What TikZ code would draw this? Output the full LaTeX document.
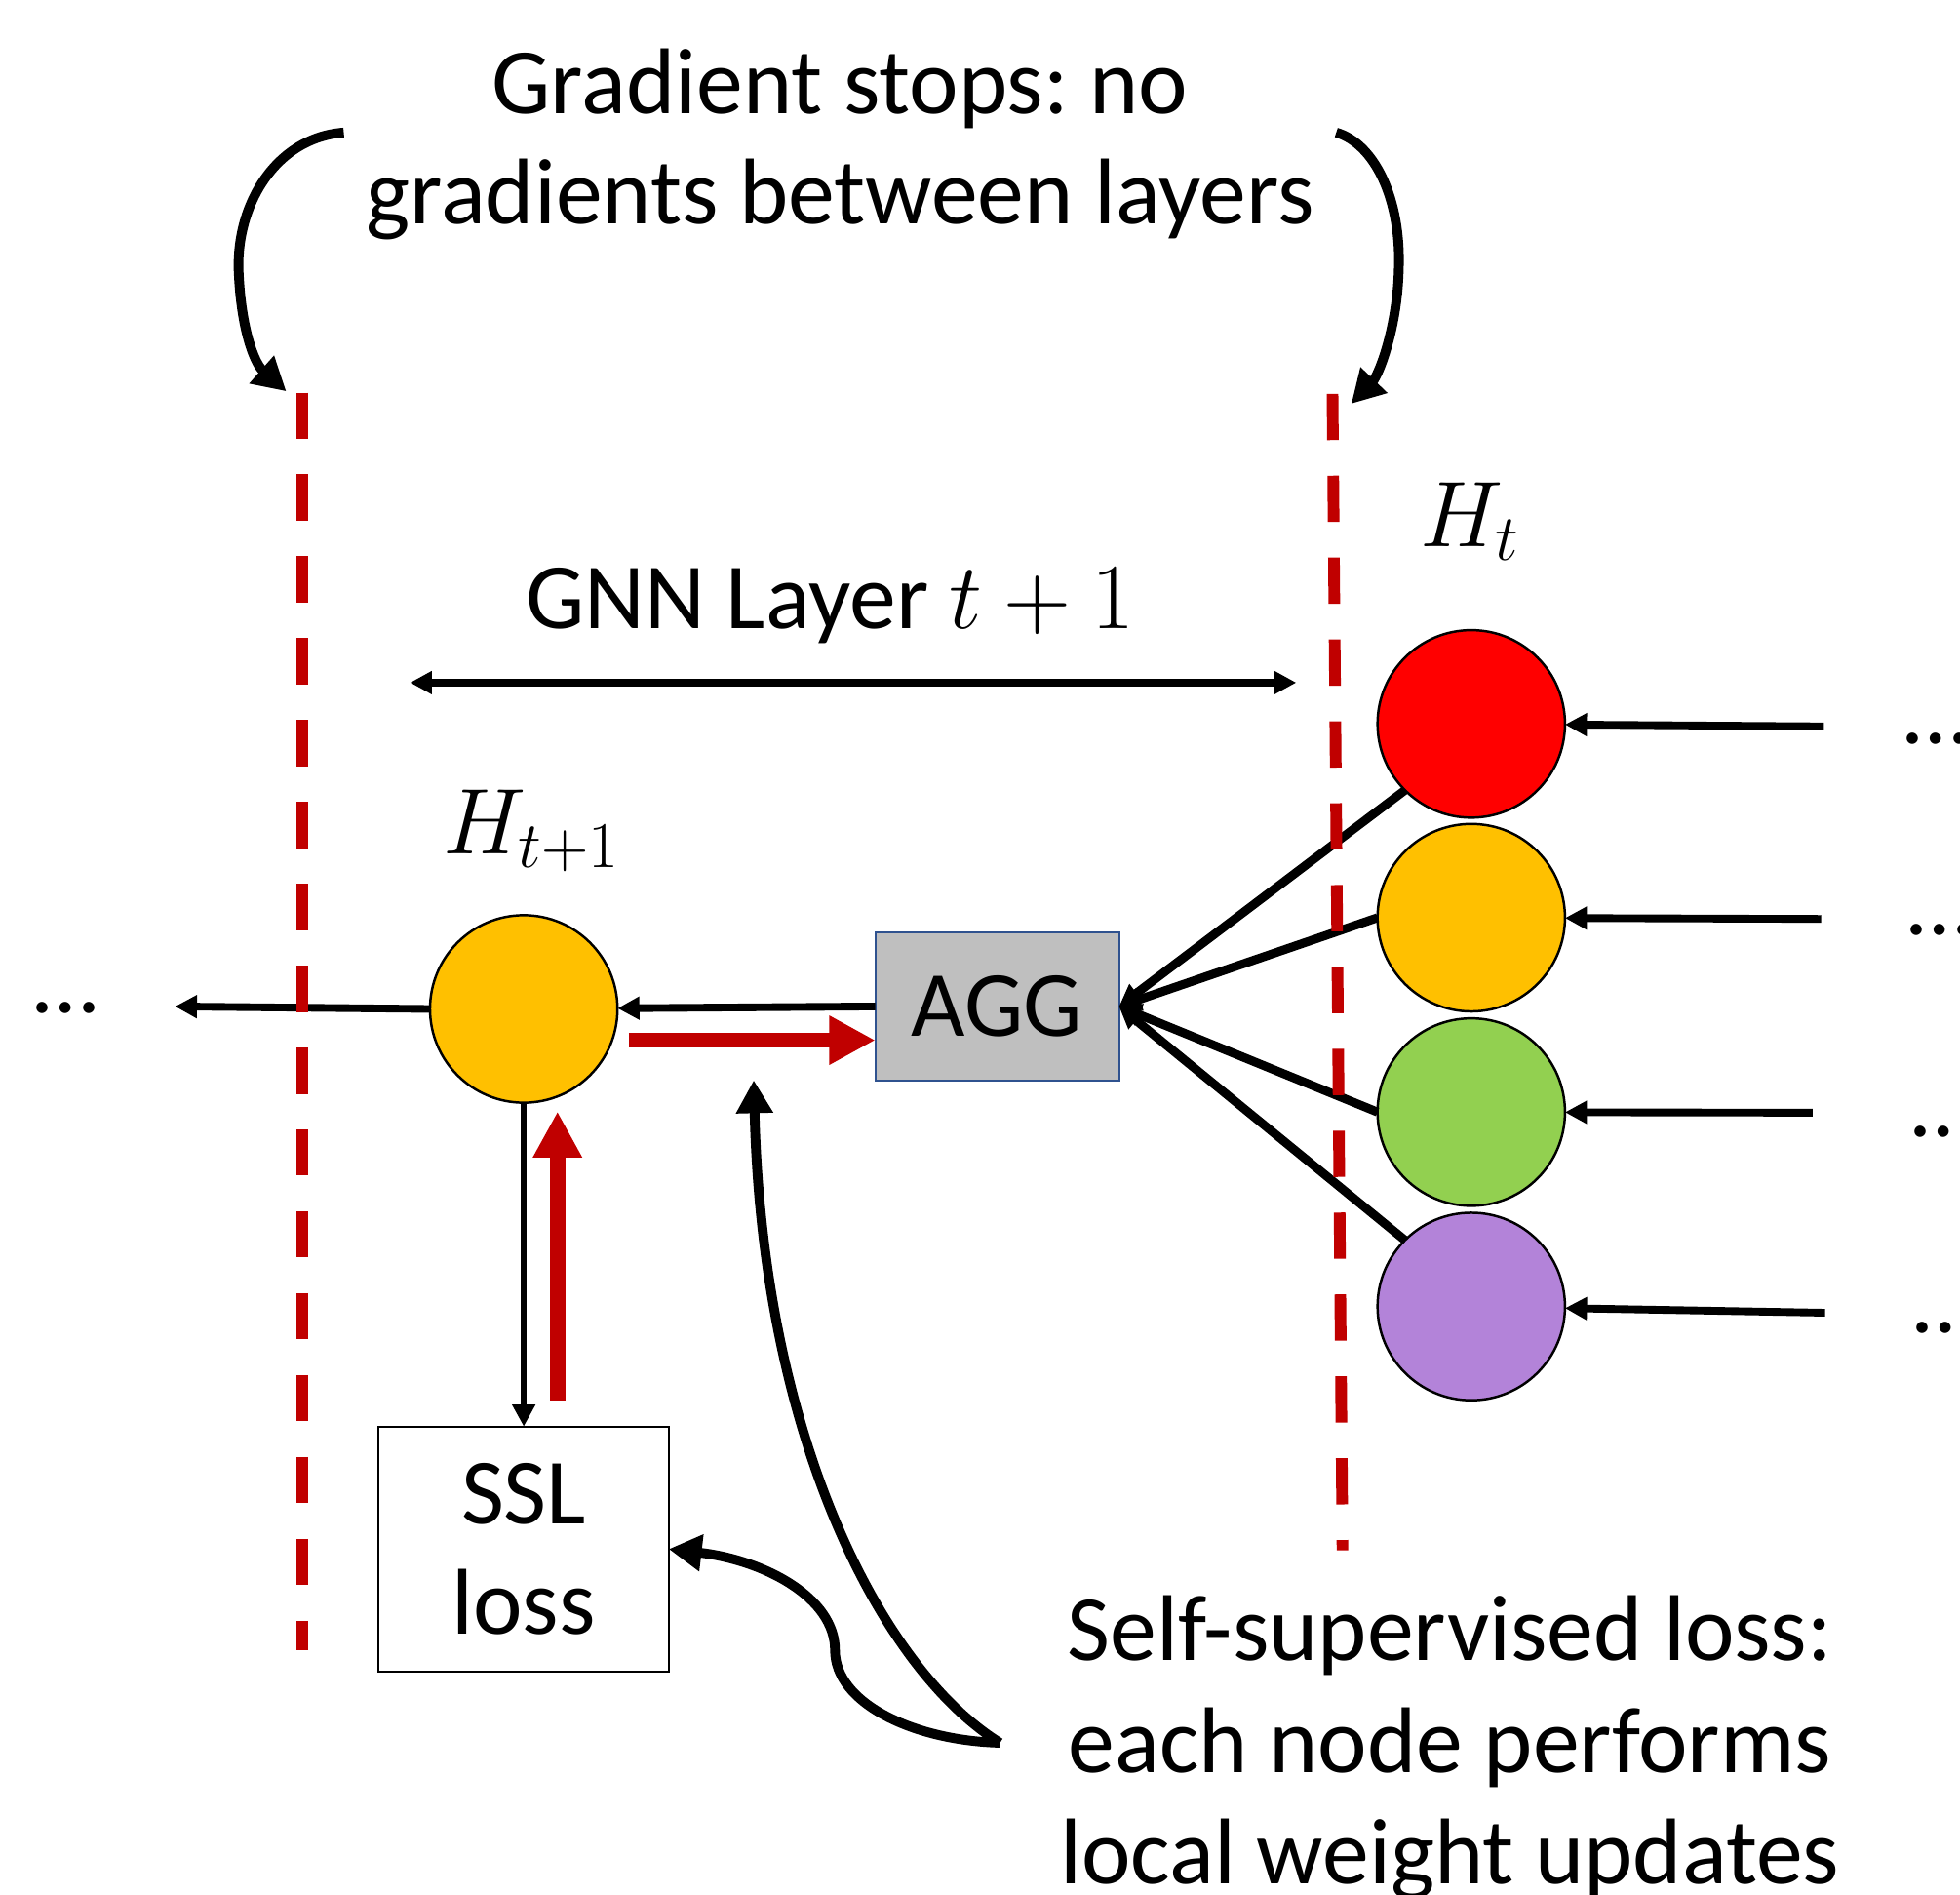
\RequirePackage{fix-cm}
\documentclass[tikz,border=0pt]{standalone}
\usepackage{fontspec}
\setmainfont{Carlito}
\usetikzlibrary{arrows.meta}
\definecolor{layerred}{HTML}{C00000}
\definecolor{nodered}{HTML}{FF0000}
\definecolor{nodeorange}{HTML}{FFC000}
\definecolor{nodegreen}{HTML}{92D050}
\definecolor{nodepurple}{HTML}{B383D9}
\definecolor{agggray}{HTML}{BFBFBF}
\definecolor{aggblue}{HTML}{2F528F}
\frenchspacing

\begin{document}
\begin{tikzpicture}[x=0.02cm, y=-0.02cm,
  txt/.style={font=\fontsize{42.5}{52}\selectfont, inner sep=0pt, outer sep=0pt},
  vertex/.style={circle, draw=black, line width=1.1pt, minimum size=3cm, inner sep=0pt, outer sep=0pt},
  arr/.style={line width=3.5pt, -{Triangle[length=10pt,width=10pt]}},
  thinarr/.style={line width=2.6pt, -{Triangle[length=10pt,width=10pt]}},
  fan/.style={line width=4pt, -{Triangle[length=10pt,width=10pt]}},
  redarr/.style={layerred, line width=7pt, -{Triangle[length=21pt,width=21pt]}},
  bigarr/.style={line width=4.4pt, -{Triangle[length=15pt,width=16pt]}},
  layerline/.style={layerred, line width=5.3pt, dash pattern=on 0.74cm off 0.57cm},
]
\useasboundingbox (0,0) rectangle (1568,1515);

% captions
\node[txt, anchor=base] (t1) at (672,91) {Gradient stops: no};
\node[txt, anchor=base] (t2) at (672,179) {gradients between layers};
\node[txt, anchor=base] (gnn) at (664,503) {GNN Layer $t+1$};
\node[txt, anchor=base] (ht) at (1176,437) {$H_t$};
\node[txt, anchor=base] (ht1) at (425,683) {$H_{t+1}$};
\node[txt, anchor=base] (n1) at (1160,1328) {Self-supervised loss:};
\node[txt, anchor=base] (n2) at (1160,1418) {each node performs};
\node[txt, anchor=base] (n3) at (1160,1507) {local weight updates};

% continuation marks
\node[txt, anchor=base west] (d1) at (1523,595) {…};
\node[txt, anchor=base west] (d2) at (1526,748) {…};
\node[txt, anchor=base west] (d3) at (1529,909) {…};
\node[txt, anchor=base west] (d4) at (1531,1066) {…};
\node[txt, anchor=base west] (d0) at (27,810) {…};

% node states of layer t
\node[vertex, fill=nodered]    (c1) at (1177,579) {};
\node[vertex, fill=nodeorange] (c2) at (1177,734) {};
\node[vertex, fill=nodegreen]  (c3) at (1177,889.5) {};
\node[vertex, fill=nodepurple] (c4) at (1177,1045) {};
% node state of layer t+1
\node[vertex, fill=nodeorange] (hc) at (419,807) {};

% aggregation and loss blocks
\node[txt, draw=aggblue, fill=agggray, line width=0.9pt,
      minimum width=3.9cm, minimum height=2.36cm] (agg) at (797.7,805) {AGG};
\node[txt, draw=black, fill=white, line width=0.9pt, align=center,
      font=\fontsize{42.5}{50.5}\selectfont,
      minimum width=4.64cm, minimum height=3.92cm] (ssl) at (419,1239) {SSL\\loss};

% free ends
\coordinate (i1) at (1459,581);
\coordinate (i2) at (1457,735);
\coordinate (i3) at (1450,890);
\coordinate (i4) at (1460,1050);
\coordinate (lend) at (140,805);
\coordinate (g1) at (328,546);
\coordinate (g2) at (1037,546);
\coordinate (r1) at (503,832);
\coordinate (u0) at (446,1120);
\coordinate (u1) at (446,889);
\coordinate (la0) at (275,106);
\coordinate (la1) at (229,313);
\coordinate (ra0) at (1069,106);
\coordinate (ra1) at (1081,323);
\coordinate (ns) at (800,1394);
\coordinate (up) at (603,864);
\coordinate (dl0) at (242,314);
\coordinate (dl1) at (242,1320);
\coordinate (dr0) at (1066,315);
\coordinate (dr1) at (1074,1240);

% inputs from the previous layer
\draw[arr] (i1) -- (c1);
\draw[arr] (i2) -- (c2);
\draw[arr] (i3) -- (c3);
\draw[arr] (i4) -- (c4);

% aggregation fan-in
\draw[fan] (c1.225) -- (agg.east);
\draw[fan] (c2.west) -- (agg.east);
\draw[fan] (c3.west) -- (agg.east);
\draw[fan] (c4.135) -- (agg.east);

% forward path
\draw[arr] (agg.west) -- (hc);
\draw[arr] (hc.west) -- (lend);
\draw[thinarr] (hc.south) -- (ssl.north);
\draw[{Triangle[length=10pt,width=10pt]}-{Triangle[length=10pt,width=10pt]}, line width=3.5pt] (g1) -- (g2);

% local gradient flow
\draw[redarr] (u0) -- (u1);
\draw[redarr] (r1) -- (r1 -| agg.west);

% annotation arrows
\draw[bigarr] (la0) .. controls (220,110) and (188,165) .. (191,219)
              .. controls (193,262) and (203,290) .. (la1);
\draw[bigarr] (ra0) .. controls (1100,115) and (1121,160) .. (1119,215)
              .. controls (1118,262) and (1103,300) .. (ra1);
\draw[bigarr] (ns) .. controls (730,1392) and (668,1362) .. (668,1320)
              .. controls (668,1278) and (612,1248) .. (ssl.east);
\draw[bigarr] (ns) .. controls (705,1335) and (610,1150) .. (up);

% layer boundaries
\draw[layerline] (dl0) -- (dl1);
\draw[layerline] (dr0) -- (dr1);
\end{tikzpicture}
\end{document}
